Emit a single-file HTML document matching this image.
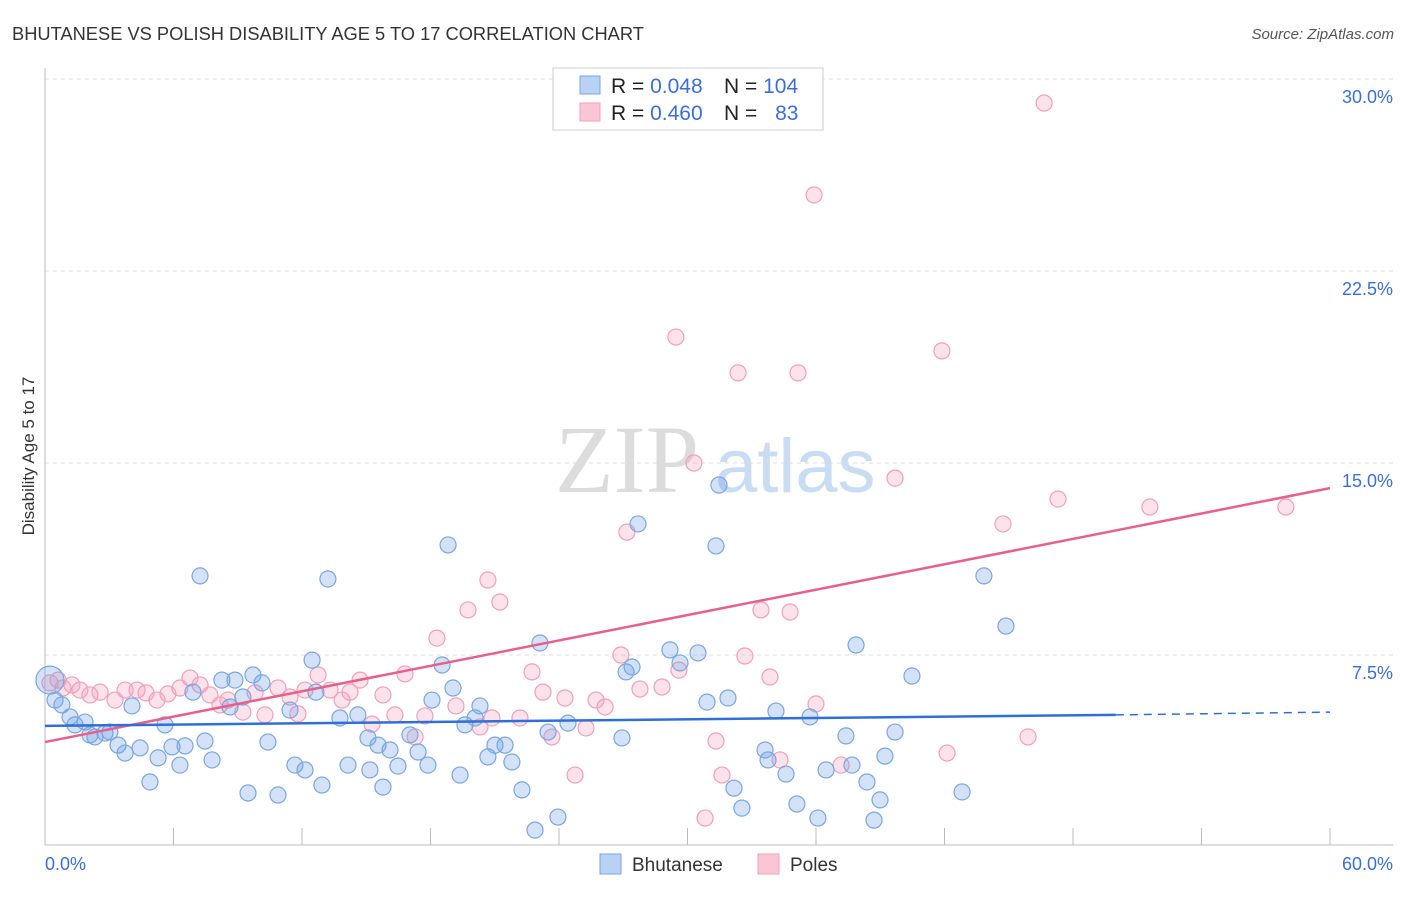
<!DOCTYPE html>
<html><head><meta charset="utf-8"><style>
body{margin:0;background:#fff;width:1406px;height:892px;overflow:hidden;font-family:"Liberation Sans",sans-serif}
</style></head><body>
<svg id="chart" width="1406" height="892" xmlns="http://www.w3.org/2000/svg" font-family="Liberation Sans, sans-serif">
<text x="12" y="40" font-size="18.3" fill="#333">BHUTANESE VS POLISH DISABILITY AGE 5 TO 17 CORRELATION CHART</text>
<text x="1394" y="39" font-size="15" fill="#555" font-style="italic" text-anchor="end">Source: ZipAtlas.com</text>
<text x="555" y="492" font-size="96" fill="#dcdcdc" font-family="Liberation Serif, serif">ZIP</text>
<text x="715" y="492" font-size="76" fill="#c9dcf2">atlas</text>
<text transform="translate(34,456) rotate(-90)" font-size="17" fill="#333" text-anchor="middle">Disability Age 5 to 17</text>
<g id="grid"></g>
<g id="axes"></g>
<g id="marks"></g>
<g>
<rect x="553" y="68" width="270" height="62" fill="#fff" stroke="#ccc"/>
<rect x="580" y="76" width="20" height="18" fill="#b8d2f4" stroke="#7aa6e0"/>
<rect x="580" y="103" width="20" height="18" fill="#fbc6d4" stroke="#f0a0b8"/>
<text x="611" y="93" font-size="21" fill="#222">R = <tspan fill="#3b6fd4">0.048</tspan></text>
<text x="724" y="93" font-size="21" fill="#222">N = <tspan fill="#3b6fd4">104</tspan></text>
<text x="611" y="120" font-size="21" fill="#222">R = <tspan fill="#3b6fd4">0.460</tspan></text>
<text x="724" y="120" font-size="21" fill="#222">N = <tspan fill="#3b6fd4" dx="12">83</tspan></text>
</g>
<g>
<rect x="600" y="854" width="21" height="20" fill="#b8d2f4" stroke="#7aa6e0"/>
<text x="632" y="871" font-size="19" fill="#333">Bhutanese</text>
<rect x="758" y="854" width="21" height="20" fill="#fbc6d4" stroke="#f0a0b8"/>
<text x="790" y="871" font-size="19" fill="#333">Poles</text>
</g>
</svg>
<script>
const blueX=[0.23,0.47,0.79,1.17,1.40,1.87,2.10,2.33,2.80,3.03,3.41,3.74,4.06,4.44,4.90,5.28,5.60,5.93,6.30,6.54,6.91,7.24,7.47,7.80,8.26,8.64,8.87,9.24,9.48,9.71,10.13,10.41,10.88,11.44,11.67,12.14,12.47,12.65,12.93,13.21,13.77,14.15,14.61,15.08,15.17,15.55,15.78,16.11,16.48,17.04,17.42,17.88,18.07,18.54,18.82,19.05,19.38,19.61,20.08,20.31,20.68,21.01,21.48,21.80,22.27,22.88,23.11,23.49,23.95,24.42,26.94,27.13,27.41,27.69,29.18,29.65,30.49,30.91,31.33,31.47,31.89,32.17,32.54,33.62,33.76,34.13,34.60,35.11,35.72,36.09,36.47,37.40,37.68,37.87,38.38,38.71,38.99,39.22,39.69,40.48,42.82,43.84,44.87];
const blueY=[6.52,5.74,5.55,5.08,4.77,4.88,4.38,4.30,4.45,4.49,3.98,3.67,5.51,3.87,2.54,3.48,4.77,3.91,3.20,3.95,6.05,10.59,4.14,3.40,6.52,5.47,6.52,5.86,2.11,6.72,6.41,4.10,2.03,5.35,3.20,3.01,7.30,6.05,2.42,10.47,5.04,3.20,5.16,4.26,3.01,3.98,2.34,3.79,3.16,4.38,3.71,3.20,5.74,7.11,11.80,6.21,2.81,4.77,5.04,5.51,3.52,3.98,3.98,3.32,2.23,0.66,7.97,4.49,1.17,4.84,4.26,6.84,7.03,12.62,7.70,7.19,7.58,5.66,11.76,14.14,5.82,2.30,1.52,3.79,3.40,5.31,2.85,1.68,5.08,1.13,3.01,4.34,3.20,7.89,2.54,1.05,1.84,3.55,4.49,6.68,2.15,10.59,8.63];
const pinkX=[0.23,0.61,0.84,1.26,1.63,2.10,2.57,3.27,3.74,4.30,4.72,5.23,5.74,6.30,6.77,7.24,7.70,8.17,8.54,9.24,9.81,10.27,10.88,11.44,11.81,12.14,12.75,13.31,13.87,14.24,14.71,15.27,15.78,16.34,16.81,17.28,17.74,18.30,19.19,19.75,20.31,20.68,20.87,21.24,22.18,22.74,23.25,23.67,24.28,24.75,25.26,25.73,26.15,26.89,27.17,27.78,28.81,29.46,29.60,30.30,30.82,31.33,31.61,32.36,32.68,33.43,33.85,34.32,34.79,35.16,35.91,36.00,37.17,39.69,41.88,42.12,44.73,45.90,46.65,47.30,51.59,57.94];
const pinkY=[6.41,6.52,6.21,6.33,6.13,5.94,6.05,5.74,6.13,6.13,6.02,5.74,5.98,6.21,6.60,6.33,5.94,5.55,5.74,5.27,6.02,5.16,6.21,5.86,5.20,6.13,6.72,6.13,5.74,6.05,6.52,4.80,5.94,5.16,6.76,4.30,5.12,8.16,5.51,9.26,4.69,10.43,5.04,9.57,5.04,6.84,6.05,4.30,5.82,2.81,4.65,5.74,5.47,7.50,12.30,6.17,6.25,19.92,6.91,15.00,1.13,4.14,2.81,18.52,7.46,9.26,6.64,3.40,9.18,18.52,25.47,5.59,3.20,14.41,19.38,3.67,12.62,4.30,29.06,13.59,13.28,13.28];
const blueLine=[4.73,5.16,5.27]; // at x=0, 50, 60
const pinkLine=[4.10,14.02]; // at x=0, 60
const yTicks=[7.5,15,22.5,30];
const yTickLabels=["7.5%","15.0%","22.5%","30.0%"];
const xTicks=[0,6,12,18,24,30,36,42,48,54,60];
const xAxisLabels=["0.0%","60.0%"];

const NS="http://www.w3.org/2000/svg";
const sx=v=>45+v*(1285/60);
const sy=v=>847-v*25.6;
function mk(tag,attrs,parent){const e=document.createElementNS(NS,tag);for(const k in attrs)e.setAttribute(k,attrs[k]);document.getElementById(parent).appendChild(e);return e;}

yTicks.forEach((t,i)=>{
  const g=mk('line',{x1:45,x2:1393,y1:sy(t),y2:sy(t),stroke:'#ddd','stroke-dasharray':'4,4'},'grid');
  
  
  const l=mk('text',{x:1393,y:sy(t)+24,'font-size':18,fill:'#3b6fd4','text-anchor':'end'},'axes');
  l.textContent=yTickLabels[i];
  
  
});
const ax=mk('line',{x1:45,x2:1393,y1:845,y2:845,stroke:'#bbb'},'axes');


const ay=mk('line',{x1:45,x2:45,y1:68,y2:845,stroke:'#bbb'},'axes');


xTicks.forEach(t=>{
  const e=mk('line',{x1:sx(t),x2:sx(t),y1:828,y2:845,stroke:'#bbb'},'axes');
  
  
});
const xl0=mk('text',{x:45,y:870,'font-size':18,fill:'#3b6fd4'},'axes');xl0.textContent=xAxisLabels[0];


const xl1=mk('text',{x:1393,y:870,'font-size':18,fill:'#3b6fd4','text-anchor':'end'},'axes');xl1.textContent=xAxisLabels[1];



pinkX.forEach((x,i)=>{
  const c=mk('circle',{cx:sx(x),cy:sy(pinkY[i]),r:8,fill:'rgba(245,160,190,0.3)',stroke:'#f0a0b8','stroke-width':1.2},'marks');
  
  
});
blueX.forEach((x,i)=>{
  const c=mk('circle',{cx:sx(x),cy:sy(blueY[i]),r:i===0?14:8,fill:'rgba(110,160,230,0.3)',stroke:'#7aa6e0','stroke-width':1.2},'marks');
  
  
});
const pl=mk('line',{x1:sx(0),y1:sy(pinkLine[0]),x2:sx(60),y2:sy(pinkLine[1]),stroke:'#e8608a','stroke-width':2.5},'marks');


const bl=mk('line',{x1:sx(0),y1:sy(blueLine[0]),x2:sx(50),y2:sy(blueLine[1]),stroke:'#2f6fd6','stroke-width':2.5},'marks');


const bd=mk('line',{x1:sx(50),y1:sy(blueLine[1]),x2:sx(60),y2:sy(blueLine[2]),stroke:'#2f6fd6','stroke-width':1.5,'stroke-dasharray':'8,6'},'marks');


</script>
</body></html>
